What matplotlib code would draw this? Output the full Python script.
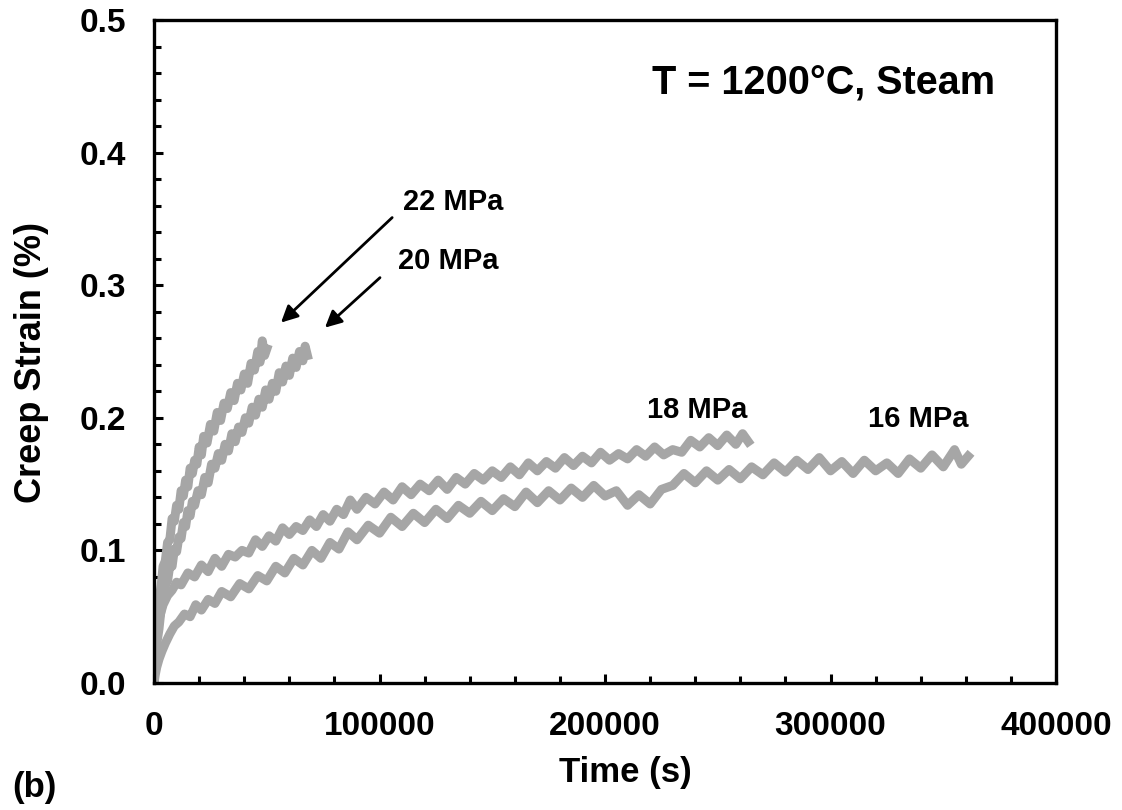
import numpy as np
import matplotlib.pyplot as plt
from matplotlib.ticker import MultipleLocator

plt.rcParams['font.family'] = ['Liberation Sans', 'DejaVu Sans']
plt.rcParams['font.weight'] = 'bold'

# creep curves (time in s, strain in %)
t22 = [0, 300, 700, 1200, 1800, 2500, 3200, 4000, 5000, 6000, 7000, 8000, 9000,
       10000, 11000, 12000, 13000, 14000, 15000, 16000, 17000, 18000, 19000,
       20000, 21000, 22000, 23500, 25000, 26500, 28000, 29500, 31000, 32500,
       34000, 35500, 37000, 38500, 40000, 41500, 43000, 44500, 46000, 47000,
       48000, 49000, 50000]
s22 = [0.0, 0.022, 0.035, 0.046, 0.055, 0.066, 0.074, 0.088, 0.092, 0.106,
       0.108, 0.124, 0.122, 0.134, 0.131, 0.145, 0.141, 0.153, 0.148, 0.162,
       0.158, 0.168, 0.165, 0.178, 0.172, 0.186, 0.181, 0.195, 0.19, 0.204,
       0.198, 0.211, 0.207, 0.219, 0.213, 0.226, 0.221, 0.233, 0.226, 0.241,
       0.236, 0.25, 0.242, 0.258, 0.247, 0.252]

t20 = [0, 400, 900, 1500, 2200, 3000, 4000, 5000, 6000, 7000, 8000, 9000, 10000,
       11000, 12000, 13000, 14000, 15000, 16000, 17000, 18000, 19500, 21000,
       22500, 24000, 25500, 27000, 28500, 30000, 31500, 33000, 34500, 36000,
       37500, 39000, 40500, 42000, 43500, 45000, 46500, 48000, 49500, 51000,
       52500, 54000, 55500, 57000, 58500, 60000, 61500, 63000, 64500, 66000,
       67000, 68000]
s20 = [0.0, 0.012, 0.022, 0.033, 0.041, 0.054, 0.062, 0.075, 0.077, 0.089,
       0.088, 0.101, 0.099, 0.11, 0.109, 0.121, 0.118, 0.13, 0.126, 0.137,
       0.134, 0.145, 0.142, 0.155, 0.151, 0.165, 0.162, 0.173, 0.168, 0.18,
       0.175, 0.188, 0.182, 0.193, 0.189, 0.2, 0.196, 0.208, 0.202, 0.214,
       0.208, 0.221, 0.214, 0.226, 0.22, 0.234, 0.227, 0.239, 0.232, 0.245,
       0.238, 0.25, 0.243, 0.254, 0.247]

t18 = [0, 300, 800, 1500, 2500, 4000, 6000, 8000, 10000, 12000, 15000, 18000,
       21000, 24000, 27000, 30000, 33000, 36000, 39000, 42000, 45000, 48000,
       51000, 54000, 57000, 60000, 63000, 66000, 69000, 72000, 75000, 78000,
       81000, 84000, 87000, 90000, 94000, 98000, 102000, 106000, 110000, 114000,
       118000, 122000, 126000, 130000, 134000, 138000, 142000, 146000, 150000,
       154000, 158000, 162000, 166000, 170000, 174000, 178000, 182000, 186000,
       190000, 194000, 198000, 202000, 206000, 210000, 214000, 218000, 222000,
       226000, 230000, 234000, 238000, 242000, 246000, 250000, 254000, 258000,
       261000, 263500]
s18 = [0.0, 0.02, 0.033, 0.044, 0.05, 0.059, 0.066, 0.07, 0.076, 0.074, 0.083,
       0.08, 0.089, 0.084, 0.094, 0.088, 0.097, 0.095, 0.1, 0.098, 0.108, 0.103,
       0.111, 0.107, 0.117, 0.112, 0.118, 0.115, 0.123, 0.118, 0.127, 0.122,
       0.131, 0.127, 0.138, 0.131, 0.14, 0.135, 0.144, 0.138, 0.148, 0.142,
       0.15, 0.145, 0.153, 0.146, 0.155, 0.15, 0.158, 0.153, 0.16, 0.155, 0.163,
       0.157, 0.166, 0.16, 0.167, 0.162, 0.17, 0.164, 0.171, 0.166, 0.174,
       0.168, 0.173, 0.169, 0.176, 0.171, 0.178, 0.172, 0.176, 0.174, 0.183,
       0.178, 0.185, 0.179, 0.187, 0.18, 0.188, 0.182]

t16 = [0, 500, 1200, 2200, 3500, 5000, 7000, 9000, 11000, 13500, 16000, 18500,
       21000, 24000, 27000, 30000, 34000, 38000, 42000, 46000, 50000, 54000,
       58000, 62000, 66000, 70000, 74000, 78000, 82000, 86000, 90000, 95000,
       100000, 105000, 110000, 115000, 120000, 125000, 130000, 135000, 140000,
       145000, 150000, 155000, 160000, 165000, 170000, 175000, 180000, 185000,
       190000, 195000, 200000, 205000, 210000, 215000, 220000, 225000, 230000,
       235000, 240000, 245000, 250000, 255000, 260000, 265000, 270000, 275000,
       280000, 285000, 290000, 295000, 300000, 305000, 310000, 315000, 320000,
       325000, 330000, 335000, 340000, 345000, 350000, 355000, 358000, 361000]
s16 = [0.0, 0.006, 0.012, 0.018, 0.024, 0.03, 0.037, 0.043, 0.046, 0.052, 0.05,
       0.059, 0.055, 0.063, 0.06, 0.069, 0.065, 0.075, 0.071, 0.081, 0.077,
       0.088, 0.083, 0.094, 0.089, 0.1, 0.094, 0.106, 0.101, 0.114, 0.108,
       0.119, 0.113, 0.125, 0.118, 0.128, 0.121, 0.131, 0.124, 0.134, 0.128,
       0.137, 0.13, 0.139, 0.133, 0.144, 0.136, 0.145, 0.138, 0.147, 0.14,
       0.149, 0.141, 0.145, 0.134, 0.142, 0.135, 0.146, 0.149, 0.158, 0.151,
       0.16, 0.153, 0.161, 0.154, 0.163, 0.157, 0.166, 0.159, 0.168, 0.161,
       0.17, 0.16, 0.167, 0.158, 0.168, 0.16, 0.166, 0.158, 0.169, 0.162,
       0.172, 0.163, 0.176, 0.165, 0.171]

fig = plt.figure(figsize=(11.22, 8.10), dpi=100)
ax = fig.add_axes([0.1373, 0.1568, 0.8039, 0.8185])

gray = '#a6a6a6'
for t, s in [(t22, s22), (t20, s20), (t18, s18), (t16, s16)]:
    ax.plot(t, s, color=gray, lw=6.5)

ax.set_xlim(0, 400000)
ax.set_ylim(0, 0.5)
ax.xaxis.set_major_locator(MultipleLocator(100000))
ax.xaxis.set_minor_locator(MultipleLocator(20000))
ax.yaxis.set_major_locator(MultipleLocator(0.1))
ax.yaxis.set_minor_locator(MultipleLocator(0.02))
ax.yaxis.set_major_formatter(plt.FormatStrFormatter('%.1f'))
ax.tick_params(which='both', direction='in', width=2.2)
ax.tick_params(which='major', length=6.5, labelsize=24)
ax.tick_params(axis='x', which='major', pad=20)
ax.tick_params(axis='y', which='major', pad=20)
ax.tick_params(which='minor', length=5)
for sp in ax.spines.values():
    sp.set_linewidth(2.4)

ax.set_xlabel('Time (s)', fontsize=25, fontweight='bold', labelpad=10)
ax.xaxis.label.set_x(0.522)
ax.set_ylabel('Creep Strain (%)', fontsize=26, fontweight='bold', labelpad=22)
ax.yaxis.label.set_y(0.484)

ax.text(297100, 0.452, 'T = 1200°C, Steam', fontsize=28.5, fontweight='bold',
        ha='center', va='center')
ax.text(132600, 0.363, '22 MPa', fontsize=21, fontweight='bold', ha='center', va='center')
ax.text(130400, 0.318, '20 MPa', fontsize=21, fontweight='bold', ha='center', va='center')
ax.text(240800, 0.2056, '18 MPa', fontsize=21, fontweight='bold', ha='center', va='center')
ax.text(338800, 0.1988, '16 MPa', fontsize=21, fontweight='bold', ha='center', va='center')

arrow = dict(arrowstyle='-|>', color='black', lw=2, mutation_scale=25,
             shrinkA=0, shrinkB=0)
ax.annotate('', xy=(56300, 0.2718), xytext=(105600, 0.351), arrowprops=arrow)
ax.annotate('', xy=(75800, 0.268), xytext=(100200, 0.3057), arrowprops=arrow)

fig.text(0.011, 0.016, '(b)', fontsize=25, fontweight='bold', va='baseline')

fig.savefig('out.png', dpi=100)
